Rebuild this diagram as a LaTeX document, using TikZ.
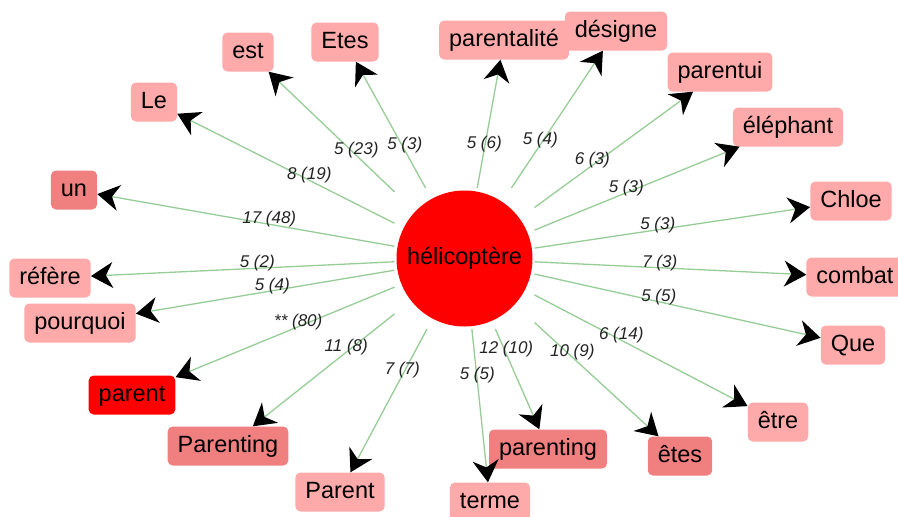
\documentclass[tikz,border=0pt]{standalone}
\usepackage{fontspec}
\setmainfont{Liberation Sans}
\usetikzlibrary{arrows.meta,calc}

\definecolor{hubred}{RGB}{255,0,0}
\definecolor{pinklight}{RGB}{255,170,170}
\definecolor{pinkmid}{RGB}{240,128,128}
\definecolor{edgegreen}{RGB}{150,205,150}
\definecolor{lblgray}{RGB}{35,35,35}

\begin{document}
\begin{tikzpicture}[x=1pt,y=-1pt,
  word/.style={rectangle, rounded corners=5pt, fill=pinklight,
    font=\fontsize{23.5}{26}\selectfont, text=black,
    inner xsep=10pt, inner ysep=8.5pt, text height=17pt, text depth=5pt},
  wordmid/.style={word, fill=pinkmid},
  wordred/.style={word, fill=hubred},
  hubstyle/.style={circle, fill=hubred, minimum size=136pt, inner sep=0pt,
    font=\fontsize{23.5}{26}\selectfont, text=black},
  hubframe/.style={rectangle, minimum width=136pt, minimum height=137pt,
    inner sep=0pt, outer sep=2pt},
  link/.style={draw=edgegreen, line width=1.3pt,
    -{Stealth[length=22pt, width=26pt, inset=7pt, color=black]}},
  weight/.style={font=\fontsize{17}{19}\selectfont\itshape, text=lblgray,
    inner sep=0pt, yshift=5pt}]

\clip (0,0) rectangle (898,517);

% central term
\node[hubstyle] (hub) at (464.5,258.5) {hélicoptère};
\node[hubframe] (hubbox) at (464.5,258.5) {};

% surrounding terms
\node[word]     (le)          at (154,102) {Le};
\node[word]     (est)         at (248,52)  {est};
\node[word]     (etes)        at (345,42)  {Etes};
\node[word]     (parentalite) at (504,40)  {parentalité};
\node[word]     (designe)     at (616,31)  {désigne};
\node[word]     (parentui)    at (720,72)  {parentui};
\node[word]     (elephant)    at (788,127) {éléphant};
\node[word]     (chloe)       at (851,201) {Chloe};
\node[word]     (combat)      at (855,277) {combat};
\node[word]     (que)         at (853,345) {Que};
\node[word]     (etre)        at (778,422) {être};
\node[wordmid]  (etesb)       at (680,456) {êtes};
\node[wordmid]  (parenting)   at (548,449) {parenting};
\node[word]     (terme)       at (490,502) {terme};
\node[word]     (parentcap)   at (340,492) {Parent};
\node[wordmid]  (parentingcap) at (228,446) {Parenting};
\node[wordred]  (parent)      at (132,395) {parent};
\node[word]     (pourquoi)    at (80,323)  {pourquoi};
\node[word]     (refere)      at (50,278)  {réfère};
\node[wordmid]  (un)          at (74,190)  {un};

% connectors with their weights
\foreach \t/\w in {le/{8 (19)}, est/{5 (23)}, etes/{5 (3)},
    parentalite/{5 (6)}, designe/{5 (4)}, parentui/{6 (3)},
    elephant/{5 (3)}, chloe/{5 (3)}, combat/{7 (3)}, que/{5 (5)},
    etre/{6 (14)}, etesb/{10 (9)}, parenting/{12 (10)}, terme/{5 (5)},
    parentcap/{7 (7)}, parentingcap/{11 (8)}, parent/{** (80)},
    pourquoi/{5 (4)}, refere/{5 (2)}, un/{17 (48)}} {
  \draw[link] (hubbox) -- (\t);
  \node[weight] (w-\t) at ($(hub)!0.5!(\t)$) {\w};
}
\end{tikzpicture}
\end{document}
